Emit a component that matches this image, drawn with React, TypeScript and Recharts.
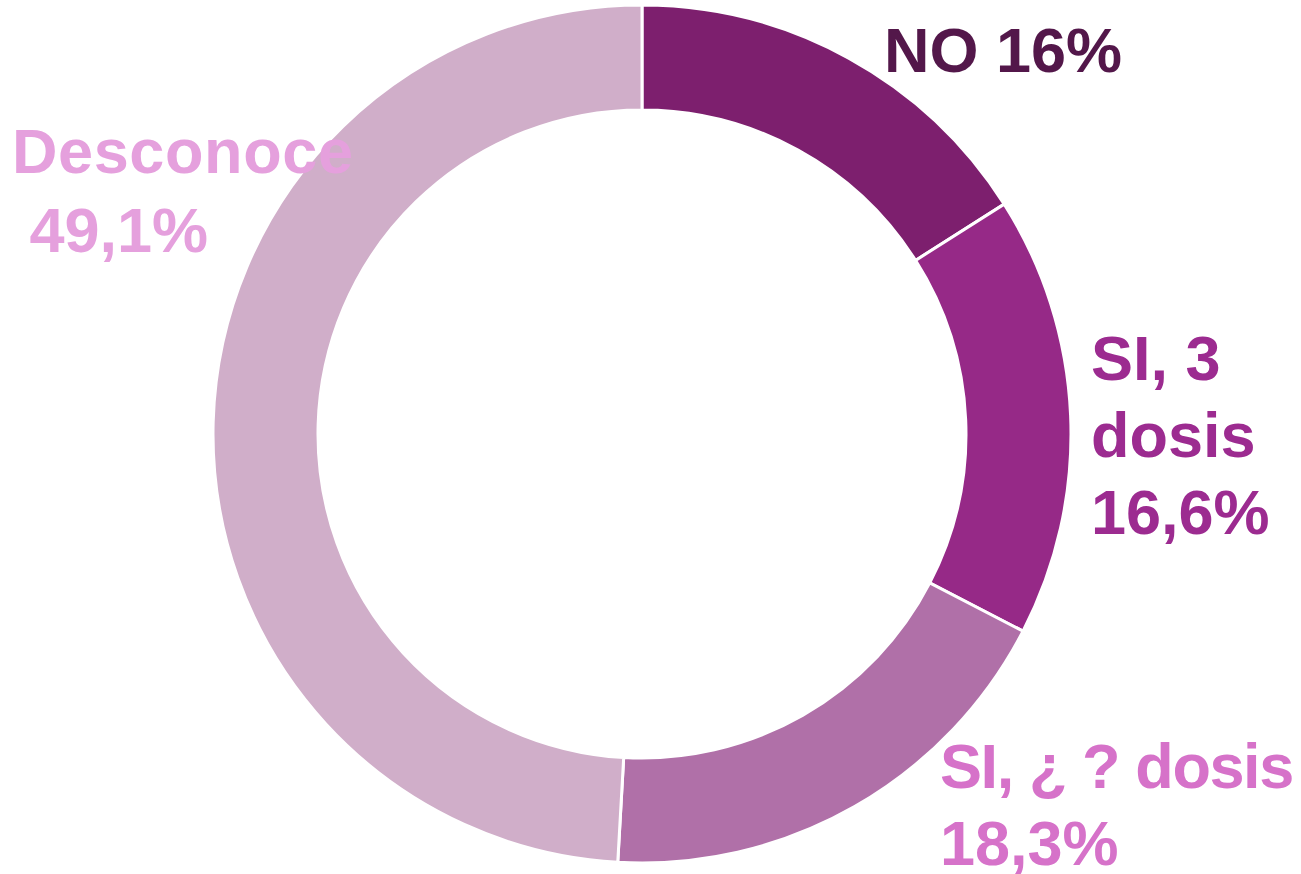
import React from "react";
import { PieChart, Pie, Cell } from "recharts";

const categories = ["NO", "SI, 3 dosis", "SI, ¿ ? dosis", "Desconoce"];
const values = [16, 16.6, 18.3, 49.1];
const labelLines = [
  ["NO 16%"],
  ["SI, 3", "dosis", "16,6%"],
  ["SI, ¿ ? dosis", "18,3%"],
  ["Desconoce", " 49,1%"],
];

const sliceColors = ["#7D1F6E", "#962987", "#B070A8", "#D0AEC9"];
const labelColors = ["#53174A", "#9C2B90", "#D672C9", "#E5A0DD"];
// label anchor (left x, first baseline y), line height, per-line letter spacing
const labelLayout = [
  { x: 884, y: 72, lh: 78, ls: [0] },
  { x: 1091, y: 380, lh: 77, ls: [0, 0, 0] },
  { x: 940, y: 788, lh: 77, ls: [-1.4, 0] },
  { x: 12, y: 173, lh: 79, ls: [0.6, 0] },
];

const data = categories.map((name, i) => ({ name, value: values[i] }));

const FONT = "'Liberation Sans', Arial, sans-serif";

const renderLabel = (props: any) => {
  const i = props.index;
  const lay = labelLayout[i];
  return (
    <text
      key={`lbl-${i}`}
      x={lay.x}
      y={lay.y}
      fill={labelColors[i]}
      fontFamily={FONT}
      fontWeight="bold"
      fontSize={63}
      textAnchor="start"
    >
      {labelLines[i].map((t, j) => (
        <tspan
          key={j}
          x={lay.x}
          y={lay.y + j * lay.lh}
          letterSpacing={lay.ls[j]}
          style={{ whiteSpace: "pre" }}
        >
          {t}
        </tspan>
      ))}
    </text>
  );
};

export default function App() {
  return (
    <div style={{ position: "absolute", left: 0, top: 0, width: 1301, height: 874, background: "#fff" }}>
      <PieChart width={1301} height={874} margin={{ top: 0, right: 0, bottom: 0, left: 0 }}>
        <Pie
          data={data}
          dataKey="value"
          nameKey="name"
          cx={642}
          cy={434}
          innerRadius={324}
          outerRadius={429}
          startAngle={90}
          endAngle={-270}
          stroke="#ffffff"
          strokeWidth={3}
          label={renderLabel}
          labelLine={false}
          isAnimationActive={false}
        >
          {data.map((d, i) => (
            <Cell key={d.name} fill={sliceColors[i]} />
          ))}
        </Pie>
      </PieChart>
    </div>
  );
}
